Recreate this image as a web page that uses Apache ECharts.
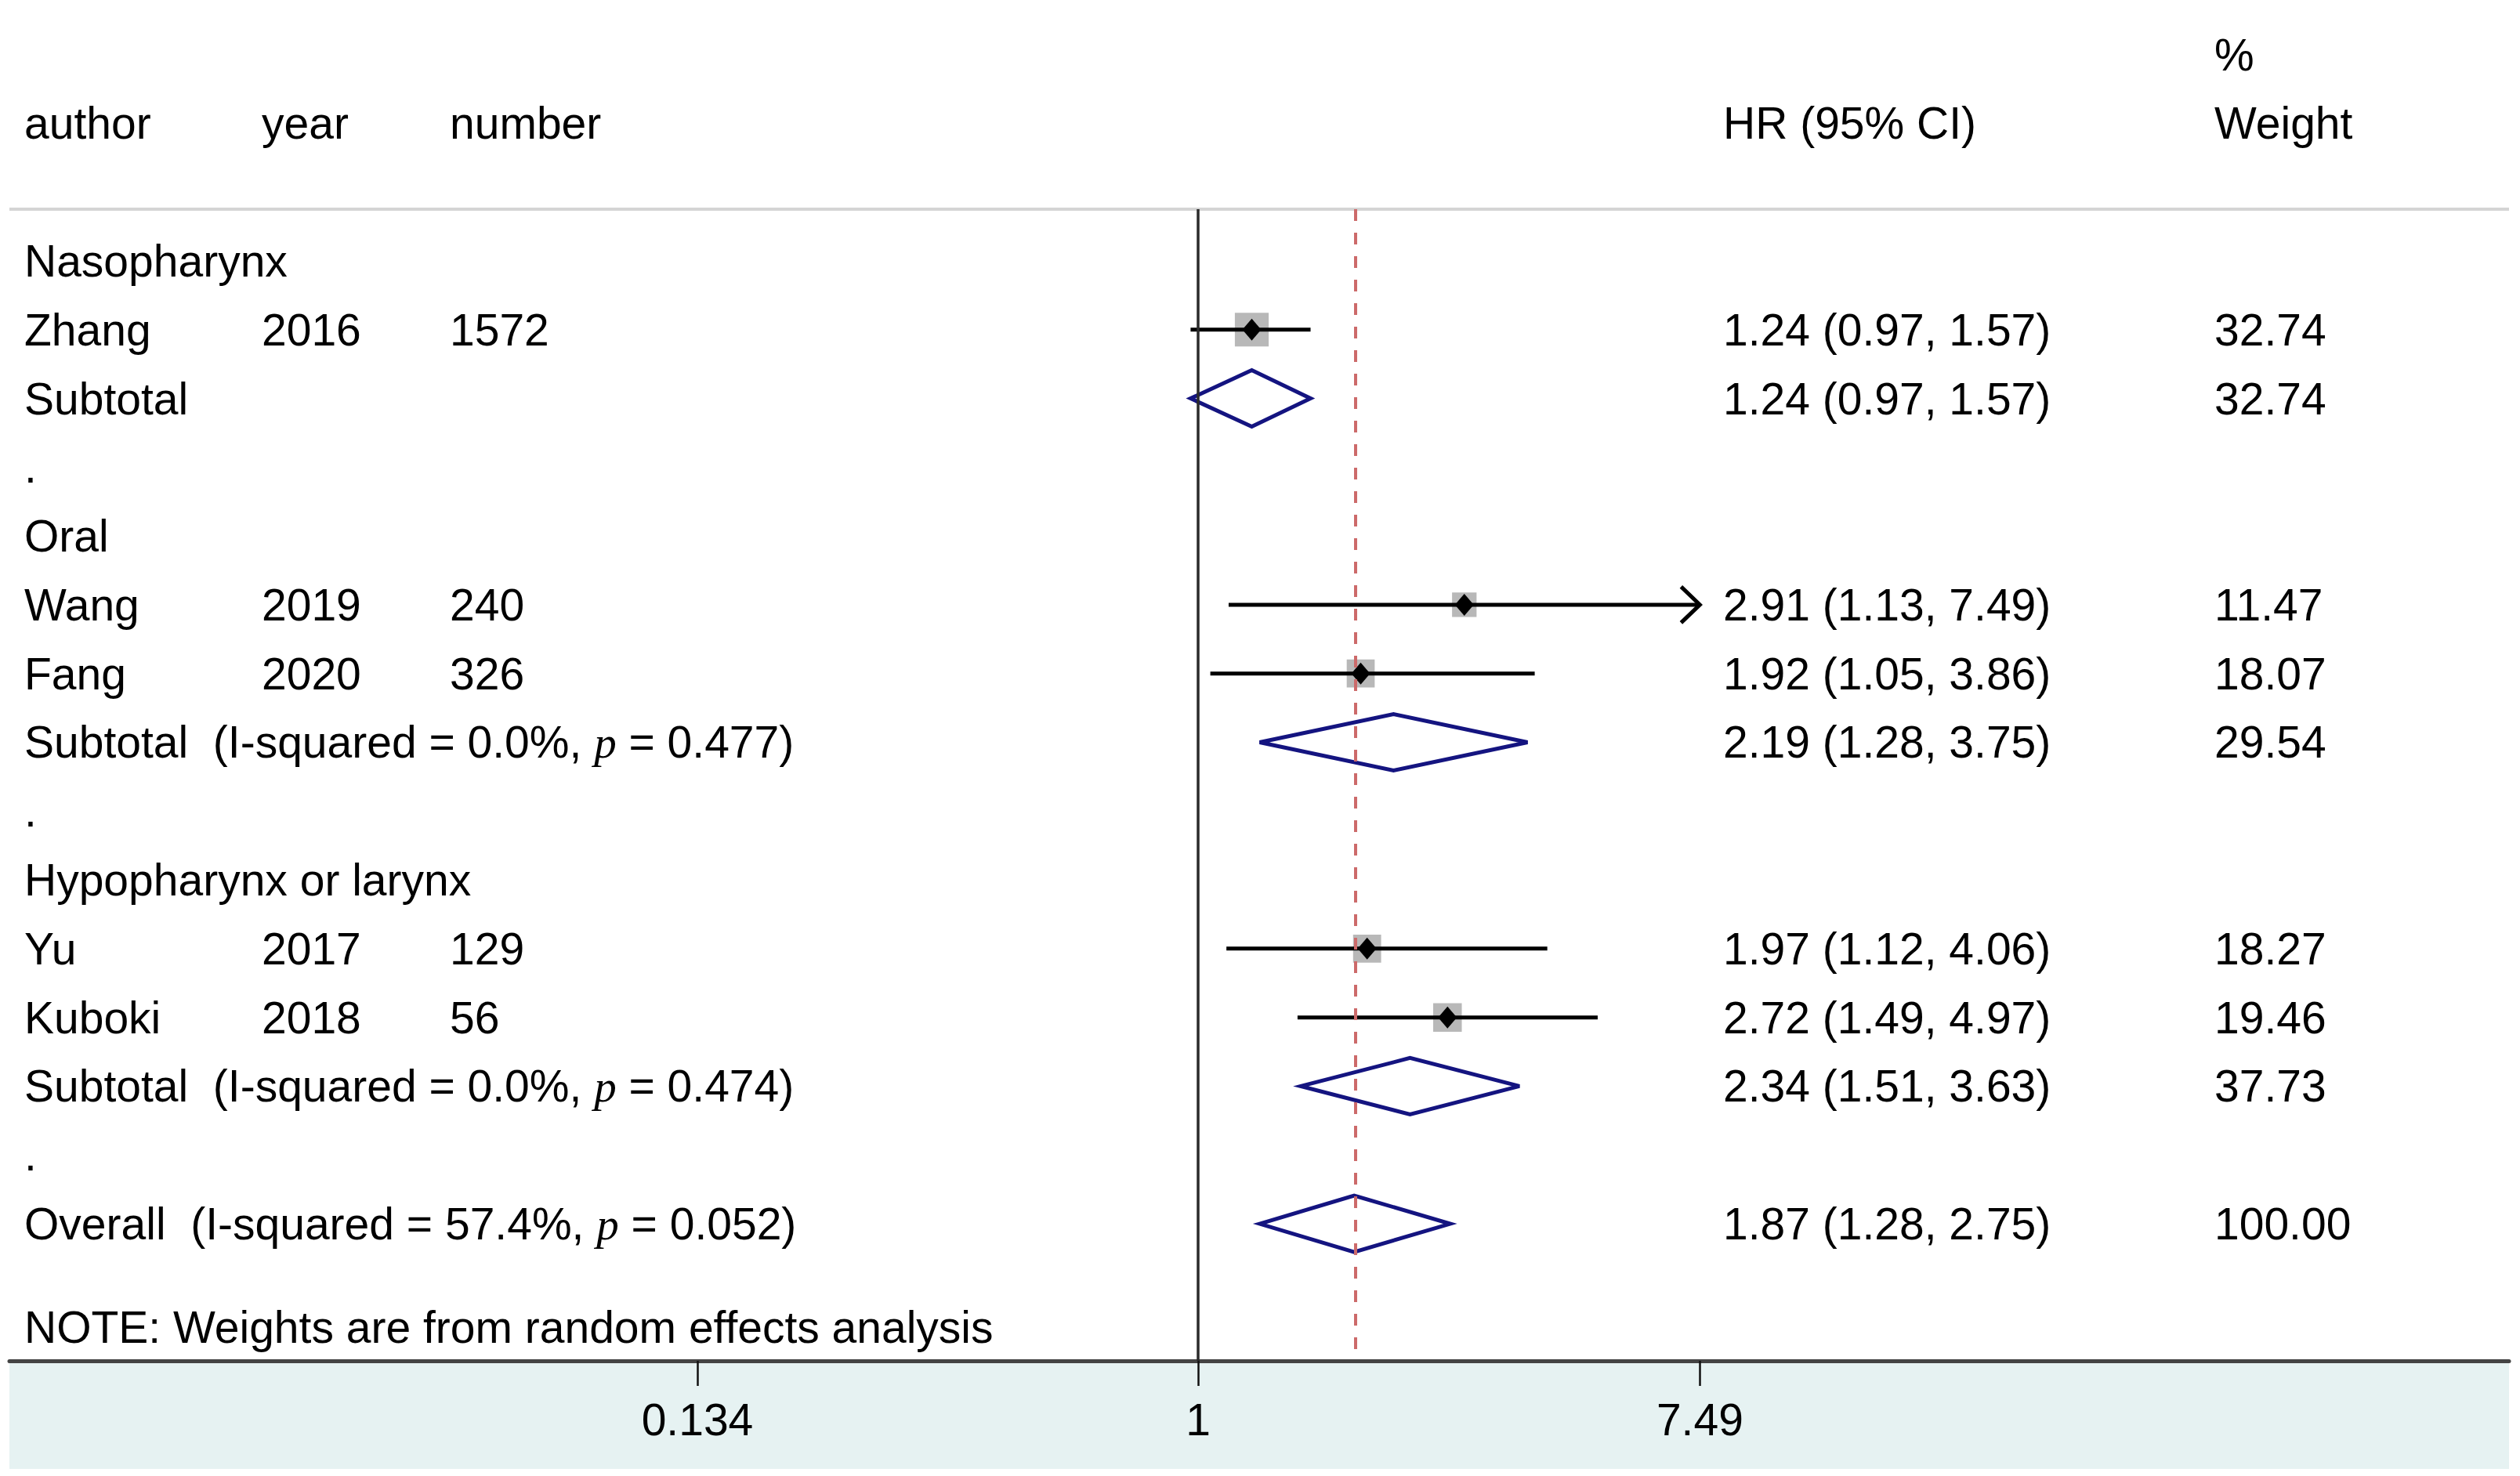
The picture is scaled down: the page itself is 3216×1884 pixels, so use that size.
<!DOCTYPE html>
<html><head><meta charset="utf-8">
<script src="https://cdn.jsdelivr.net/npm/echarts@6/dist/echarts.min.js"></script>
<style>html,body{margin:0;padding:0;background:#fff}#c{width:3216px;height:1884px}</style>
</head><body><div id="c"></div>
<script>
// ---------------- DATA ----------------
const rowLabels = ['Nasopharynx','Zhang','Subtotal','.','Oral','Wang','Fang','Subtotal','.','Hypopharynx or larynx','Yu','Kuboki','Subtotal','.','Overall'];
const rowKinds  = ['head','study','sub','blank','head','study','study','sub','blank','head','study','study','sub','blank','overall'];
const years     = ['','2016','','','','2019','2020','','','','2017','2018','','',''];
const numbers   = ['','1572','','','','240','326','','','','129','56','','',''];
const iSquared  = [null,null,null,null,null,null,null,'0.0%',null,null,null,null,'0.0%',null,'57.4%'];
const pValues   = [null,null,null,null,null,null,null,'0.477',null,null,null,null,'0.474',null,'0.052'];
const hr        = [null,1.24,1.24,null,null,2.91,1.92,2.19,null,null,1.97,2.72,2.34,null,1.87];
const ciLow     = [null,0.97,0.97,null,null,1.13,1.05,1.28,null,null,1.12,1.49,1.51,null,1.28];
const ciHigh    = [null,1.57,1.57,null,null,7.49,3.86,3.75,null,null,4.06,4.97,3.63,null,2.75];
const weights   = [null,32.74,32.74,null,null,11.47,18.07,29.54,null,null,18.27,19.46,37.73,null,100.00];
const overallHR = 1.87;
const xTicks      = [0.134, 1, 7.49];
const xTickLabels = ['0.134','1','7.49'];
const headerCols  = ['author','year','number','HR (95% CI)','Weight'];
const weightHeaderTop = '%';
const noteText = 'NOTE: Weights are from random effects analysis';

// ---------------- LAYOUT ----------------
const FS = 57;
const FAM = '"Liberation Sans", Arial, sans-serif';
const FONT = FS + 'px ' + FAM;
const COLX = [31, 334, 574, 2199, 2826];
const LN_MIN = -4.771, LN_MAX = 5.261;
const Y_MIN = -0.751, Y_MAX = 15.993;
const GRID = {left:12, right:14, top:267, bottom:147};

const lnTicks = xTicks.map(Math.log);

const markData = [];
hr.forEach((v, i) => {
  if (v != null) markData.push([Math.log(v), i, Math.log(ciLow[i]), Math.log(ciHigh[i]), weights[i]]);
});

const lines = [];
lines.push({y:-3, cells:[{x:COLX[4], text:weightHeaderTop}]});
lines.push({y:-2, cells:headerCols.map((t, j) => ({x:COLX[j], text:t}))});
rowLabels.forEach((lab, i) => {
  const cells = [];
  if (iSquared[i] != null) {
    cells.push({x:COLX[0], rich:'{n|' + lab + '\u00a0\u00a0(I-squared\u00a0=\u00a0' + iSquared[i] + ',\u00a0}{i|p}{n|\u00a0=\u00a0' + pValues[i] + ')}'});
  } else {
    cells.push({x:COLX[0], text:lab});
  }
  if (years[i]) cells.push({x:COLX[1], text:years[i]});
  if (numbers[i]) cells.push({x:COLX[2], text:numbers[i]});
  if (hr[i] != null) {
    cells.push({x:COLX[3], text:hr[i].toFixed(2) + ' (' + ciLow[i].toFixed(2) + ', ' + ciHigh[i].toFixed(2) + ')'});
    cells.push({x:COLX[4], text:weights[i].toFixed(2)});
  }
  lines.push({y:i, cells});
});
lines.push({y:15.5, cells:[{x:COLX[0], text:noteText}]});
const textData = lines.map((l, i) => [0, l.y, i]);

const chart = echarts.init(document.getElementById('c'), null, {renderer:'svg'});
chart.setOption({
  animation:false,
  backgroundColor:'#fff',
  grid:GRID,
  xAxis:{
    type:'value', min:LN_MIN, max:LN_MAX,
    splitLine:{show:false},
    axisLine:{show:true, onZero:false, lineStyle:{color:'#444', width:5}},
    axisTick:{show:true, customValues:lnTicks, length:32, lineStyle:{color:'#111', width:2.5}},
    axisLabel:{show:true, customValues:lnTicks, margin:46, color:'#000', fontSize:FS, fontFamily:FAM,
      formatter:(v) => { const j = lnTicks.findIndex(t => Math.abs(t - v) < 1e-6); return j >= 0 ? xTickLabels[j] : ''; }}
  },
  yAxis:{type:'value', inverse:true, min:Y_MIN, max:Y_MAX, show:false},
  graphic:[
    {type:'rect', z:-10, shape:{x:12, y:1737, width:3190, height:138}, style:{fill:'#e6f2f2'}},
    {type:'line', shape:{x1:12, y1:267, x2:3202, y2:267}, style:{stroke:'#d4d4d4', lineWidth:4}}
  ],
  series:[
    {
      type:'custom', clip:false, z:3,
      data:markData,
      encode:{x:0, y:1},
      renderItem:(params, api) => {
        const row = api.value(1);
        const c = api.coord([api.value(0), row]);
        const l = api.coord([api.value(2), row]);
        const h = api.coord([api.value(3), row]);
        if (rowKinds[row] === 'study') {
          const s = 14 + 5.1 * Math.sqrt(api.value(4));
          const ch = [
            {type:'rect', shape:{x:c[0]-s/2, y:c[1]-s/2, width:s, height:s}, style:{fill:'#b8b8b8'}},
            {type:'line', shape:{x1:l[0], y1:l[1], x2:h[0], y2:h[1]}, style:{stroke:'#000', lineWidth:5}},
            {type:'polygon', shape:{points:[[c[0], c[1]-14], [c[0]+12, c[1]], [c[0], c[1]+14], [c[0]-12, c[1]]]}, style:{fill:'#000'}}
          ];
          if (ciHigh[row] >= xTicks[xTicks.length-1]) {
            ch.push({type:'polyline', shape:{points:[[h[0]-24, h[1]-23], [h[0], h[1]], [h[0]-24, h[1]+23]]}, style:{stroke:'#000', lineWidth:5, fill:null}});
          }
          return {type:'group', children:ch};
        }
        return {type:'polygon', shape:{points:[[l[0], c[1]], [c[0], c[1]-36], [h[0], c[1]], [c[0], c[1]+36]]},
          style:{stroke:'#141480', lineWidth:5, fill:'none', lineJoin:'miter'}};
      },
      markLine:{
        silent:true, symbol:'none', label:{show:false}, animation:false,
        data:[
          {xAxis:0, lineStyle:{color:'#2a2a2a', width:3.5, type:'solid'}},
          {xAxis:Math.log(overallHR), lineStyle:{color:'#cc6a6a', width:4, type:[15,15]}}
        ]
      }
    },
    {
      type:'custom', clip:false, z:4,
      data:textData,
      encode:{x:0, y:1},
      renderItem:(params, api) => {
        const ln = lines[api.value(2)];
        const y = api.coord([0, api.value(1)])[1];
        return {type:'group', children:ln.cells.map(cell => {
          if (cell.rich) {
            return {type:'text', style:{x:cell.x, y:y, text:cell.rich, verticalAlign:'middle', align:'left', fill:'#000', font:FONT,
              rich:{n:{fontSize:FS, fontFamily:FAM, fill:'#000'}, i:{fontSize:FS, fontFamily:'"Liberation Serif", serif', fontStyle:'italic', fill:'#000'}}}};
          }
          return {type:'text', style:{x:cell.x, y:y, text:cell.text, verticalAlign:'middle', align:'left', fill:'#000', font:FONT}};
        })};
      }
    }
  ]
});
</script>
</body></html>
